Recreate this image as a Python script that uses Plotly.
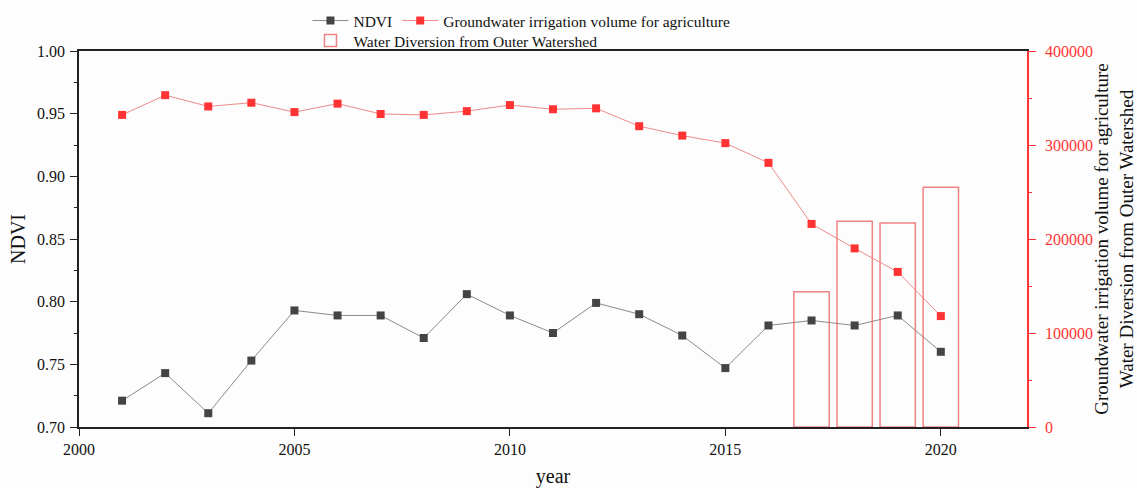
import plotly.graph_objects as go

# Annual series
years = list(range(2001, 2021))
ndvi = [0.721, 0.743, 0.711, 0.753, 0.793, 0.789, 0.789, 0.771, 0.806, 0.789,
        0.775, 0.799, 0.790, 0.773, 0.747, 0.781, 0.785, 0.781, 0.789, 0.760]
groundwater = [332000, 353000, 341000, 345000, 335000, 344000, 333000, 332000, 336000, 342500,
               338000, 339000, 320000, 310000, 302000, 281000, 216000, 190000, 165000, 118000]
diversion_years = [2017, 2018, 2019, 2020]
diversion = [144000, 219000, 217000, 255000]

FONT = "Liberation Serif"
RED = "#ff3333"

fig = go.Figure()

fig.add_trace(go.Bar(
    x=diversion_years, y=diversion, width=0.82, yaxis="y2",
    name="Water Diversion from Outer Watershed",
    marker=dict(color="rgba(255,255,255,0)", line=dict(color="rgba(235,90,90,0.75)", width=1.5)),
    legend="legend2",
))
fig.add_trace(go.Scatter(
    x=years, y=ndvi, mode="lines+markers", name="NDVI",
    line=dict(color="#8a8a8a", width=1),
    marker=dict(symbol="square", size=8, color="#444444"),
))
fig.add_trace(go.Scatter(
    x=years, y=groundwater, mode="lines+markers", yaxis="y2",
    name="Groundwater irrigation volume for agriculture",
    line=dict(color="#f08a8a", width=1),
    marker=dict(symbol="square", size=8, color=RED),
))

fig.update_layout(
    width=1137, height=488,
    margin=dict(l=79, r=110, t=51, b=61, autoexpand=False),
    paper_bgcolor="#fdfdfd", plot_bgcolor="#fdfdfd",
    font=dict(family=FONT, size=16, color="#111111"),
    showlegend=True,
    legend=dict(orientation="h", x=0.241, xanchor="left", yref="container", y=0.957, yanchor="middle",
                font=dict(family=FONT, size=15.5), bgcolor="rgba(0,0,0,0)", traceorder="normal",
                itemwidth=36),
    legend2=dict(orientation="h", x=0.241, xanchor="left", yref="container", y=0.916, yanchor="middle",
                 font=dict(family=FONT, size=15.5), bgcolor="rgba(0,0,0,0)", itemwidth=36),
    xaxis=dict(
        range=[2000, 2022], tick0=2000, dtick=5, showgrid=False, zeroline=False,
        showline=True, linecolor="#222222", linewidth=1.5, mirror=True,
        ticks="outside", ticklen=7, tickcolor="#222222", automargin=False,
        tickfont=dict(family=FONT, size=16),
        title=dict(text="year", font=dict(family=FONT, size=20), standoff=20),
    ),
    yaxis=dict(
        range=[0.70, 1.00], dtick=0.05, tickformat=".2f", showgrid=False, zeroline=False,
        showline=True, linecolor="#222222", linewidth=1.5, automargin=False,
        ticks="outside", ticklen=7, tickcolor="#222222",
        minor=dict(dtick=0.025, ticks="outside", ticklen=3, tickcolor="#222222"),
        tickfont=dict(family=FONT, size=16), ticklabelstandoff=2,
        title=dict(text="NDVI", font=dict(family=FONT, size=20), standoff=6),
    ),
    yaxis2=dict(
        overlaying="y", side="right", range=[0, 400000], dtick=100000, showgrid=False,
        zeroline=False, showline=True, linecolor=RED, linewidth=1.5, automargin=False,
        ticks="outside", ticklen=7, tickcolor=RED,
        minor=dict(dtick=50000, ticks="outside", ticklen=3, tickcolor=RED),
        tickfont=dict(family=FONT, size=16, color=RED), tickformat="d", ticklabelstandoff=6,
        title=dict(text="Groundwater irrigation volume for agriculture<br>Water Diversion from Outer Watershed",
                   font=dict(family=FONT, size=19, color="#111111"), standoff=8),
    ),
)

fig.write_html("out.html")
